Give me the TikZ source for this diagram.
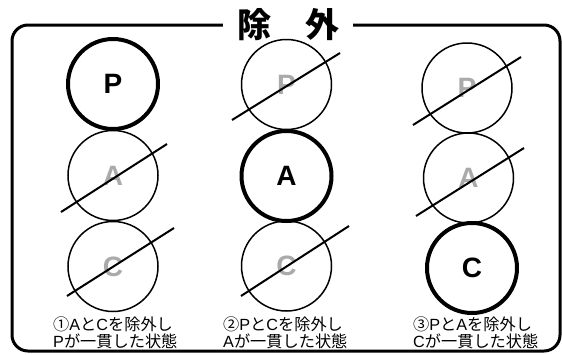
\documentclass[tikz,border=0pt]{standalone}
\usepackage{fontspec}
\setmainfont{Liberation Sans}
\newfontfamily\cjk{Noto Sans CJK JP}
\newcommand{\lat}[1]{{\normalfont #1}}
\usetikzlibrary{calc}
\definecolor{ghost}{HTML}{AAAAAA}
\tikzset{
  x=1pt,y=-1pt,
  ball/.style={circle,draw,minimum size=90pt,inner sep=0pt,font=\bfseries\fontsize{28}{30}\selectfont},
  keep/.style={ball,line width=4pt,text=black},
  drop/.style={ball,line width=1.5pt,text=ghost},
  strike/.style={line width=2pt},
  caption/.style={font=\cjk\fontsize{16.2}{17.5}\selectfont,align=left,inner sep=0pt,anchor=north west},
  frame/.style={line width=3pt,rounded corners=16pt},
  title/.style={fill=white,inner xsep=14pt,inner ysep=0pt,font=\cjk\bfseries\fontsize{34}{36}\selectfont}
}
\begin{document}
\begin{tikzpicture}
\useasboundingbox (0,0) rectangle (562,354);
\draw[frame] (12,25) rectangle (560,351);
\node[title] (ttl) at (288,25) {除　外};
% column 1
\node[keep] (p1) at (113,84) {P};
\node[drop] (a1) at (113,175.5) {A};
\node[drop] (c1) at (113,266.5) {C};
% column 2
\node[drop] (p2) at (286.5,84.5) {P};
\node[keep] (a2) at (286.5,176) {A};
\node[drop] (c2) at (286.5,266) {C};
% column 3
\node[drop] (p3) at (467,88) {P};
\node[drop] (a3) at (468.5,178) {A};
\node[keep] (c3) at (472,268) {C};
% strike lines
\draw[strike] ($(a1)+(-52,36.5)$) -- ($(a1)+(54,-31.5)$);
\draw[strike] ($(c1)+(-46,29.5)$) -- ($(c1)+(61,-38.5)$);
\draw[strike] ($(p2)+(-54.5,35.5)$) -- ($(p2)+(53.5,-31.5)$);
\draw[strike] ($(c2)+(-45.5,30)$) -- ($(c2)+(62.5,-40)$);
\draw[strike] ($(p3)+(-54,37)$) -- ($(p3)+(54,-31)$);
\draw[strike] ($(a3)+(-52.5,38)$) -- ($(a3)+(55.5,-30)$);
% captions
\node[caption] (t1) at (53,316.5) {①\lat{A}と\lat{C}を除外し\\\lat{P}が一貫した状態};
\node[caption] (t2) at (223,316.5) {②\lat{P}と\lat{C}を除外し\\\lat{A}が一貫した状態};
\node[caption] (t3) at (413,316.5) {③\lat{P}と\lat{A}を除外し\\\lat{C}が一貫した状態};
\end{tikzpicture}
\end{document}
